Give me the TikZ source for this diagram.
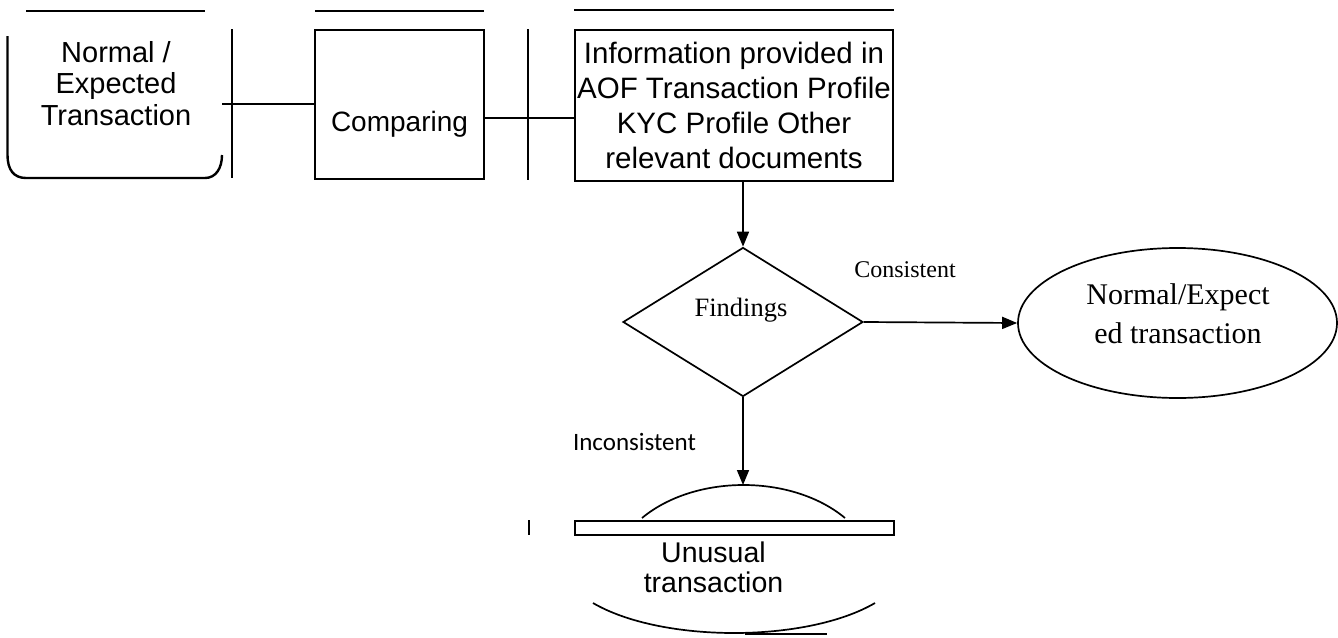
\documentclass[tikz,border=0pt]{standalone}
\usepackage{fontspec}
\newfontfamily\arialfont{Liberation Sans}
\newfontfamily\timesfont{Liberation Serif}
\newfontfamily\calfont{Carlito}
\usetikzlibrary{shapes.geometric,arrows.meta}

\begin{document}
\begin{tikzpicture}[x=1pt,y=-1pt,
    edge/.style={line width=2.4pt},
    thinedge/.style={line width=1.7pt},
    arr/.style={thinedge,-{Triangle[length=15pt,width=12pt]}},
    box/.style={draw,line width=2.4pt,inner sep=0pt},
    sanstext/.style={font=\arialfont\fontsize{29}{31.5}\selectfont,align=center,inner sep=0pt},
    seriftext/.style={font=\timesfont\fontsize{30}{39}\selectfont,align=center,inner sep=0pt}]
  \useasboundingbox (0,0) rectangle (1338,637);

  % top row
  \foreach \a/\b/\y in {26/205/11, 315/484/11, 574/894/10}
    \draw[edge] (\a,\y) -- (\b,\y);
  \foreach \x/\b in {232/178, 528/180}
    \draw[edge] (\x,29) -- (\x,\b);

  \draw[edge] (7.5,36) -- (7.5,155) .. controls (7.5,170) and (14,178) .. (26,178)
    -- (205,178) .. controls (216,178) and (222,168) .. (222,155);
  \node[sanstext] (exptext) at (116,83.5) {Normal /\\Expected\\Transaction};
  \coordinate (expout) at (222,104);

  \node[box,minimum width=169pt,minimum height=149pt] (cmp) at (399.5,104.5) {};
  \node[sanstext,font=\arialfont\fontsize{28}{31}\selectfont,anchor=base] (cmptext) at (399.5,131) {Comparing};

  \node[box,sanstext,draw,line width=2.4pt,minimum width=318pt,minimum height=151pt,
    font=\arialfont\fontsize{29.5}{35}\selectfont] (info) at (734,105.5)
    {Information provided in\\AOF Transaction Profile\\KYC Profile Other\\relevant documents};

  \draw[edge] (expout) -- (expout -| cmp.west);
  \coordinate (cmpout) at (cmp.east |- 0,118);
  \draw[edge] (cmpout) -- (cmpout -| info.west);

  % findings
  \node[diamond,draw,thinedge,minimum width=240pt,minimum height=149pt,inner sep=0pt] (find) at (743,322) {};
  \node[seriftext,font=\timesfont\fontsize{26.5}{30}\selectfont,anchor=base] (findtext) at (741,316) {Findings};
  \draw[arr] (info.south -| find.north) -- (find.north);

  \node[ellipse,draw,thinedge,minimum width=319pt,minimum height=150pt,inner sep=0pt] (expell) at (1177.5,323) {};
  \node[seriftext] (expelltext) at (1178,313.6) {Normal/Expect\\ed transaction};
  \draw[arr] (find.east) -- (expell.west);
  \node[seriftext,font=\timesfont\fontsize{24}{28}\selectfont,anchor=base] (cons) at (905,277) {Consistent};

  % unusual
  \node[draw,line width=2.2pt,minimum width=319pt,minimum height=14pt,inner sep=0pt] (unbar) at (734.5,528) {};
  \coordinate (untop) at (743,485);
  \draw[thinedge] (642,518) .. controls (695,474) and (792,474) .. (845,518);
  \draw[thinedge] (593,603) .. controls (661.5,643) and (806.5,643) .. (875,603);
  \draw[edge] (745,634) -- (827,634);
  \draw[edge] (529,520) -- (529,535);
  \node[sanstext,font=\arialfont\fontsize{28.5}{30}\selectfont] (untext) at (713.5,567) {Unusual\\transaction};
  \draw[arr] (find.south) -- (untop);
  \node[font=\calfont\fontsize{25}{30}\selectfont,anchor=base,inner sep=0pt] (incons) at (634.5,450) {Inconsistent};
\end{tikzpicture}
\end{document}
